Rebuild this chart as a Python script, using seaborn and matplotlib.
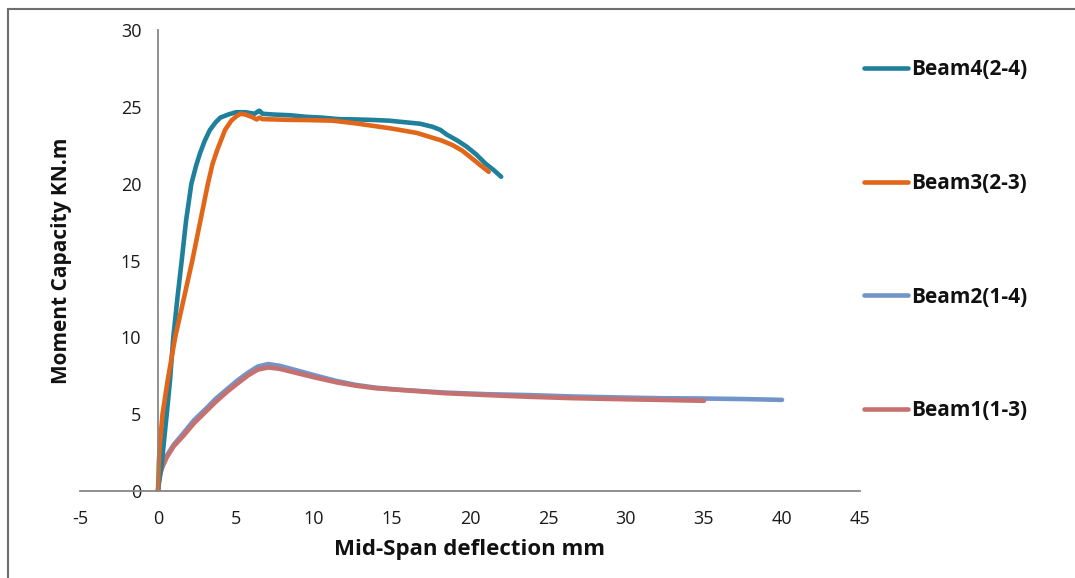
import pandas as pd
import matplotlib.pyplot as plt
import seaborn as sns
from matplotlib.patches import Rectangle

beam4_x = [0, 0.1, 0.24, 0.4, 0.56, 0.77, 0.98, 1.25, 1.52, 1.8, 2.14, 2.45, 2.7, 3.0,
           3.33, 3.7, 4.0, 4.5, 5.0, 5.6, 6.2, 6.4, 6.5, 6.7, 7.4, 8.5, 9.5, 10.5, 11.6,
           12.7, 13.7, 14.8, 15.8, 16.8, 17.6, 18.1, 18.5, 19.2, 19.8, 20.4, 21.0, 21.5, 22.0]
beam4_y = [0, 0.8, 1.8, 3.4, 5.0, 7.2, 10.0, 12.6, 15.0, 17.6, 20.0, 21.2, 22.0, 22.8,
           23.5, 24.0, 24.3, 24.5, 24.65, 24.65, 24.55, 24.7, 24.75, 24.55, 24.5, 24.45, 24.35, 24.3, 24.2,
           24.18, 24.15, 24.1, 24.0, 23.9, 23.7, 23.5, 23.2, 22.8, 22.4, 21.9, 21.3, 20.9, 20.45]

beam3_x = [0, 0.05, 0.11, 0.29, 0.62, 1.1, 1.65, 2.2, 2.7, 3.2, 3.5, 3.8, 4.3, 4.7,
           5.04, 5.3, 5.6, 6.0, 6.33, 6.5, 6.7, 7.4, 8.5, 9.5, 11.2, 12.7, 14.9, 16.6,
           17.4, 18.2, 18.9, 19.5, 20.0, 20.6, 21.2]
beam3_y = [0, 1.8, 2.9, 5.0, 7.2, 10.0, 12.5, 15.0, 17.5, 20.0, 21.3, 22.2, 23.5, 24.1,
           24.4, 24.55, 24.5, 24.35, 24.18, 24.3, 24.2, 24.18, 24.15, 24.14, 24.1, 23.92, 23.6, 23.3,
           23.05, 22.8, 22.5, 22.15, 21.75, 21.25, 20.77]

beam2_x = [0, 0.05, 0.15, 0.3, 0.55, 1.0, 1.66, 2.3, 3.05, 3.7, 4.43, 5.1, 5.8, 6.4,
           7.06, 7.8, 8.6, 10.0, 11.4, 12.7, 14.0, 15.5, 18.3, 21.1, 23.8, 26.6, 29.4,
           32.1, 34.9, 37.7, 40.0]
beam2_y = [0, 0.6, 1.2, 1.7, 2.28, 3.0, 3.8, 4.6, 5.33, 6.0, 6.63, 7.2, 7.72, 8.1,
           8.26, 8.15, 7.93, 7.54, 7.17, 6.9, 6.72, 6.59, 6.41, 6.3, 6.24, 6.15, 6.09,
           6.04, 6.02, 5.98, 5.93]

beam1_x = [0, 0.05, 0.15, 0.3, 0.55, 1.0, 1.66, 2.3, 3.05, 3.7, 4.43, 5.1, 5.8, 6.4,
           7.06, 7.8, 8.6, 10.0, 11.4, 12.7, 14.0, 15.5, 18.3, 21.1, 23.8, 26.6, 29.4,
           32.1, 35.0]
beam1_y = [0, 0.6, 1.15, 1.6, 2.17, 2.9, 3.63, 4.4, 5.15, 5.8, 6.46, 7.0, 7.54, 7.9,
           8.04, 7.95, 7.75, 7.4, 7.08, 6.85, 6.68, 6.58, 6.37, 6.24, 6.13, 6.04, 5.98,
           5.93, 5.87]

names = ["Beam4(2-4)", "Beam3(2-3)", "Beam2(1-4)", "Beam1(1-3)"]
colors = ["#1f809c", "#e2661a", "#7194c9", "#c6716f"]

frames = []
for name, xs, ys in zip(names, [beam4_x, beam3_x, beam2_x, beam1_x],
                        [beam4_y, beam3_y, beam2_y, beam1_y]):
    frames.append(pd.DataFrame({"deflection": xs, "moment": ys, "beam": name}))
df = pd.concat(frames, ignore_index=True)

sns.set_style("white")
plt.rcParams["font.family"] = ["Open Sans", "DejaVu Sans"]
plt.rcParams["axes.unicode_minus"] = False
plt.rcParams["text.color"] = "#111111"

fig = plt.figure(figsize=(10.75, 5.78), dpi=100)
ax = fig.add_axes([80 / 1075, 87 / 578, 780 / 1075, 461 / 578])

draw_order = ["Beam2(1-4)", "Beam1(1-3)", "Beam4(2-4)", "Beam3(2-3)"]
sns.lineplot(data=df, x="deflection", y="moment", hue="beam", hue_order=draw_order,
             palette=dict(zip(names, colors)), sort=False, estimator=None,
             units="beam", linewidth=3.3, ax=ax, legend=False)

ax.set_xlim(-5, 45)
ax.set_ylim(0, 30)
ax.set_xticks(range(-5, 50, 5))
ax.set_yticks(range(0, 35, 5))

ax.spines["left"].set_position(("data", 0))
ax.spines["right"].set_visible(False)
ax.spines["top"].set_visible(False)
for s in ["left", "bottom"]:
    ax.spines[s].set_color("#868686")
    ax.spines[s].set_linewidth(1.3)
ax.tick_params(axis="both", direction="out", length=5, width=1.3, color="#868686",
               labelsize=13, labelcolor="#1a1a1a")
ax.tick_params(axis="x", pad=9)
ax.tick_params(axis="y", pad=7)

ax.set_xlabel("")
ax.set_ylabel("")
fig.text(470 / 1075, 1 - 549 / 578, "Mid-Span deflection mm", ha="center", va="center",
         fontsize=16, fontweight="bold")
fig.text(62 / 1075, 1 - 261 / 578, "Moment Capacity KN.m", ha="center", va="center",
         rotation=90, fontsize=15, fontweight="bold")

# legend entries spread down the right side
legend_lines = [plt.Line2D([], [], color=c, linewidth=3.3) for c in colors]
fig.legend(legend_lines, names, loc="upper left", bbox_to_anchor=(856 / 1075, 1 - 51 / 578),
           frameon=False, prop={"weight": "bold", "size": 15}, handlelength=2.1,
           handletextpad=0.15, labelspacing=4.45, borderaxespad=0)

# outer chart border (left/top visible)
fig.patches.append(Rectangle((8 / 1075, -0.1), 1.2, 1 - 9 / 578 + 0.1, transform=fig.transFigure,
                             fill=False, edgecolor="#6e6e6e", linewidth=1.5))

fig.savefig("out.png", dpi=100)
